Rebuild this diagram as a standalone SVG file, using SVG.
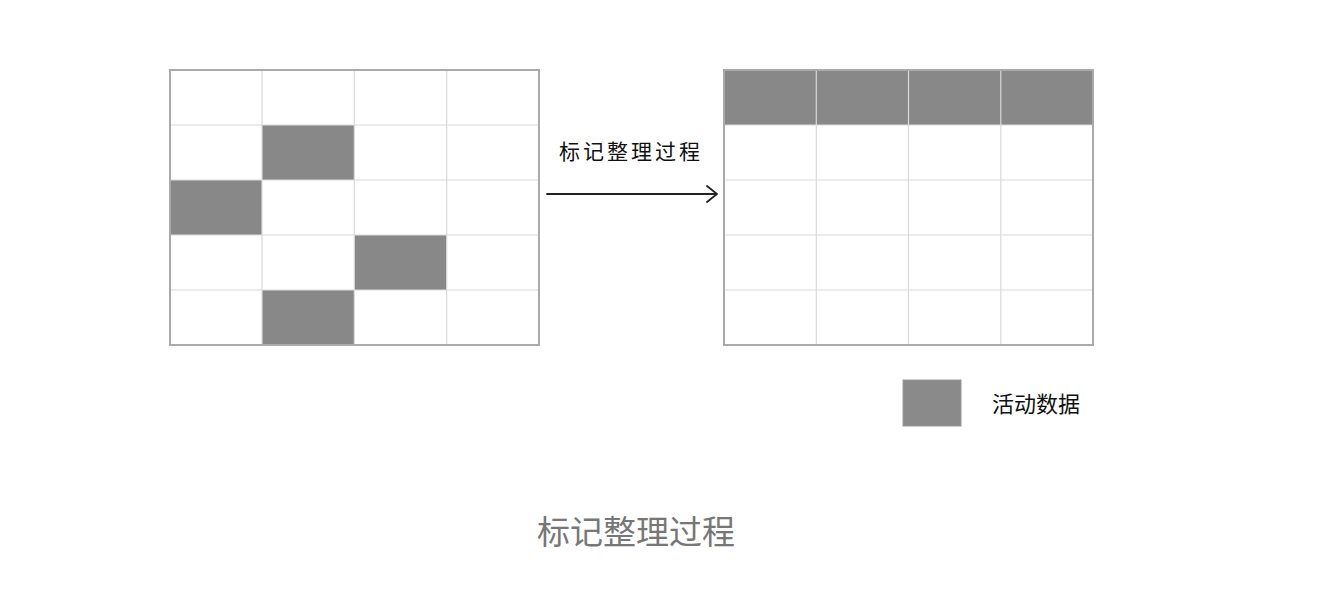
<svg xmlns="http://www.w3.org/2000/svg" width="1324" height="612" viewBox="0 0 1324 612">
<style>
.cell{fill:#fff}
.live{fill:#888}
.inner{stroke:#dadada;stroke-width:1.2;fill:none}
.outer{stroke:#aaa;stroke-width:2;fill:none}
.t{font-family:"Noto Sans CJK SC","Noto Sans",sans-serif}
</style>
<rect width="1324" height="612" fill="#fff"/>
<g id="left-grid">
<rect x="170" y="70" width="369" height="275" class="cell"/>
<rect x="262" y="125" width="92.3" height="55" class="live"/>
<rect x="170" y="180" width="92" height="55" class="live"/>
<rect x="354.3" y="235" width="92.4" height="55" class="live"/>
<rect x="262" y="290" width="92.3" height="55" class="live"/>
<path class="inner" d="M262 70V345M354.3 70V345M446.7 70V345M170 125H539M170 180H539M170 235H539M170 290H539"/>
<rect x="170" y="70" width="369" height="275" class="outer"/>
</g>
<g id="right-grid">
<rect x="724" y="70" width="369" height="275" class="cell"/>
<rect x="724" y="70" width="369" height="55" class="live"/>
<path class="inner" d="M816.3 70V345M908.5 70V345M1000.8 70V345M724 125H1093M724 180H1093M724 235H1093M724 290H1093"/>
<rect x="724" y="70" width="369" height="275" class="outer"/>
</g>
<g id="connectors">
<path d="M547 194H717M707 186L717 194L707 202" fill="none" stroke="#222" stroke-width="1.8" stroke-linecap="round" stroke-linejoin="round"/>
<text x="631" y="159" text-anchor="middle" class="t" font-size="21" letter-spacing="3" fill="#111">标记整理过程</text>
</g>
<g id="legend">
<rect x="903" y="380" width="58" height="46" fill="#8a8a8a" stroke="#999" stroke-width="1"/>
<text x="992" y="412" class="t" font-size="22" fill="#111">活动数据</text>
</g>
<g id="caption">
<text x="636" y="544" text-anchor="middle" class="t" font-size="33" fill="#777">标记整理过程</text>
</g>
</svg>
